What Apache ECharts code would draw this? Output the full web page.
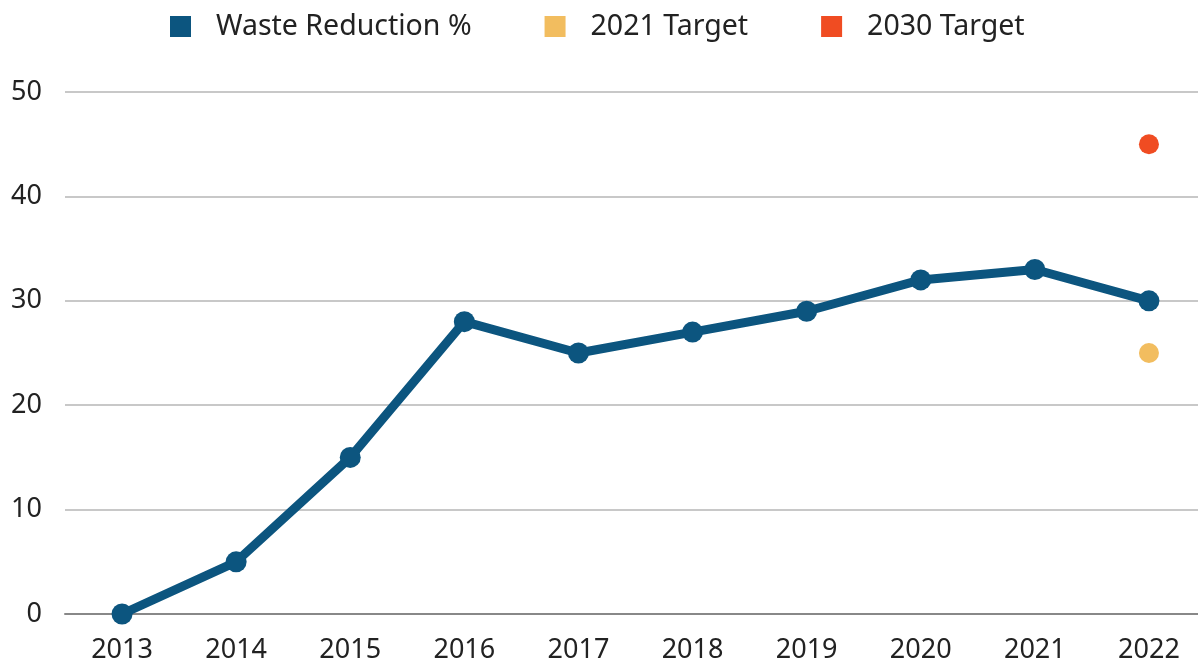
<!DOCTYPE html>
<html>
<head>
<meta charset="utf-8">
<script src="https://cdn.jsdelivr.net/npm/echarts@6/dist/echarts.min.js"></script>
<style>
html,body{margin:0;padding:0;background:#fff;overflow:hidden;}
#chart{width:1206px;height:665px;}
</style>
</head>
<body>
<div id="chart"></div>
<script>
// Years on the x axis
const years = ['2013','2014','2015','2016','2017','2018','2019','2020','2021','2022'];
// Waste reduction achieved each year (%)
const wasteReduction = [0, 5, 15, 28, 25, 27, 29, 32, 33, 30];
// Targets, shown against the latest year
const target2021 = [['2022', 25]];
const target2030 = [['2022', 45]];
// Y axis ticks
const yTicks = [0, 10, 20, 30, 40, 50];

const FONT = 'Noto Sans';
const chart = echarts.init(document.getElementById('chart'));
chart.setOption({
  animation: false,
  textStyle: { fontFamily: FONT },
  legend: {
    top: 7,
    left: 165,
    itemWidth: 21,
    itemHeight: 21,
    itemGap: 73,
    icon: 'rect',
    textStyle: { fontSize: 28.5, color: '#222', fontFamily: FONT, padding: [0, 0, 0, 20] },
    data: ['Waste Reduction %', '2021 Target', '2030 Target']
  },
  grid: { left: 65, right: 0, top: 92, height: 522, containLabel: false },
  xAxis: {
    type: 'category',
    data: years,
    boundaryGap: true,
    axisLine: { show: true, lineStyle: { color: '#888', width: 2 } },
    axisTick: { show: false },
    axisLabel: { fontSize: 27, color: '#222', margin: 23, fontFamily: FONT },
    splitLine: { show: false }
  },
  yAxis: {
    type: 'value',
    min: yTicks[0],
    max: yTicks[yTicks.length - 1],
    interval: 10,
    axisLine: { show: false },
    axisTick: { show: false },
    axisLabel: { fontSize: 27, color: '#222', margin: 23, fontFamily: FONT },
    splitLine: { show: true, lineStyle: { color: '#c8c8c8', width: 2 } }
  },
  series: [
    {
      name: 'Waste Reduction %',
      type: 'line',
      data: wasteReduction,
      symbol: 'circle',
      symbolSize: 21,
      itemStyle: { color: '#0c557f' },
      lineStyle: { color: '#0c557f', width: 9 }
    },
    {
      name: '2021 Target',
      type: 'scatter',
      data: target2021,
      symbolSize: 20,
      itemStyle: { color: '#f2bd5f', opacity: 1 }
    },
    {
      name: '2030 Target',
      type: 'scatter',
      data: target2030,
      symbolSize: 20,
      itemStyle: { color: '#f04c22', opacity: 1 }
    }
  ]
});
</script>
</body>
</html>
